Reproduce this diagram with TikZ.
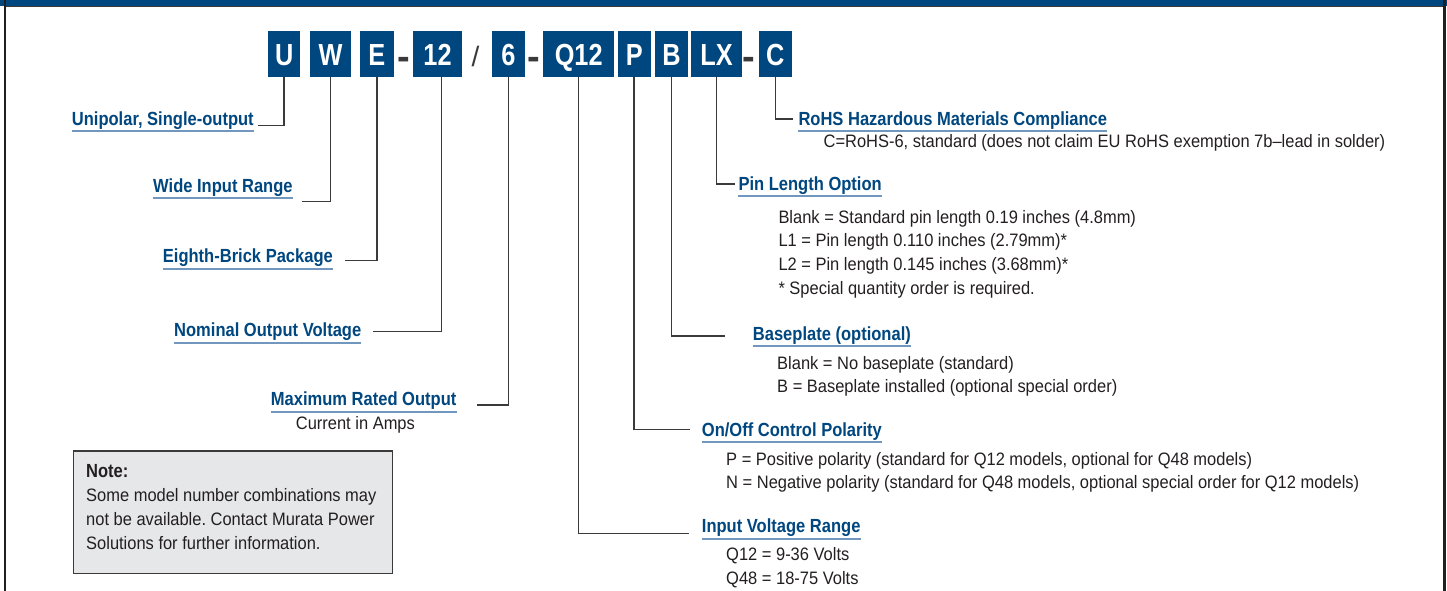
\documentclass[tikz,border=0pt]{standalone}
\usepackage{fontspec}
\setmainfont{Liberation Sans}
\newfontfamily\bodyf[FakeStretch=0.915]{Liberation Sans}
\newfontfamily\headf[FakeStretch=0.87]{Liberation Sans}
\newfontfamily\boxf[FakeStretch=0.83]{Liberation Sans}
\definecolor{mblue}{HTML}{00467F}
\definecolor{ublue}{HTML}{7297BE}
\definecolor{tgray}{HTML}{231F20}
\definecolor{cgray}{HTML}{3A3A3A}
\definecolor{notefill}{HTML}{E6E7E8}
\frenchspacing
\tikzset{
  pbox/.style={fill=mblue, text=white, font=\boxf\bfseries\fontsize{30.5}{30}\selectfont,
    inner sep=0pt, minimum height=45.5pt, text height=22pt, text depth=0pt},
  sepch/.style={text=cgray, inner sep=0pt, anchor=base},
  head/.style={text=mblue, font=\headf\bfseries\fontsize{19}{22}\selectfont, inner sep=0pt, anchor=base west},
  body/.style={text=tgray, font=\bodyf\fontsize{18}{22}\selectfont\frenchspacing, inner sep=0pt, anchor=base west},
  notehead/.style={text=tgray, font=\headf\bfseries\fontsize{19}{22}\selectfont, inner sep=0pt, anchor=base west},
  conn/.style={draw=cgray, line width=1.5pt},
  uline/.style={draw=ublue, line width=1.6pt},
  frameline/.style={draw=tgray, line width=2pt},
  notebox/.style={fill=notefill, draw=cgray, line width=1.2pt, inner sep=0pt}
}
\newcommand{\ul}[1]{\draw[uline] ([yshift=-6pt]#1.base west) -- ([yshift=-6pt]#1.base east);}
\begin{document}
\begin{tikzpicture}[x=1pt,y=-1pt]
\useasboundingbox (0,0) rectangle (1447,591);
% frame
\fill[mblue] (0,0) rectangle (1447,6.2);
\draw[cgray, line width=1pt] (5,6.7) -- (1444.5,6.7);
\draw[frameline] (5,0) -- (5,591);
\draw[frameline, line width=2.6pt] (1444.6,0) -- (1444.6,591);

% code boxes
\node[pbox, minimum width=31.7pt] (bU) at (284.2,54.2) {U};
\node[pbox, minimum width=41pt] (bW) at (330.5,54.2) {W};
\node[pbox, minimum width=33.7pt] (bE) at (376.8,54.2) {E};
\node[pbox, minimum width=48.4pt] (b12) at (437.5,54.2) {12};
\node[pbox, minimum width=33.3pt] (b6) at (508.3,54.2) {6};
\node[pbox, minimum width=70.7pt] (bQ) at (578.7,54.2) {Q12};
\node[pbox, minimum width=33pt] (bP) at (634.2,54.2) {P};
\node[pbox, minimum width=33pt] (bB) at (671.5,54.2) {B};
\node[pbox, minimum width=50.4pt] (bL) at (716.5,54.2) {LX};
\node[pbox, minimum width=32.7pt] (bC) at (775.3,54.2) {C};
% separators
\node[sepch, font=\bfseries\fontsize{38}{38}\selectfont] (s1) at (403.5,69.5) {-};
\node[sepch, font=\fontsize{28}{28}\selectfont] (s2) at (475.5,66.5) {/};
\node[sepch, font=\bfseries\fontsize{38}{38}\selectfont] (s3) at (534.3,69.5) {-};
\node[sepch, font=\bfseries\fontsize{38}{38}\selectfont] (s4) at (749.3,69.5) {-};

% left labels
\node[head] (hU) at (71.7,125) {Unipolar, Single-output}; \ul{hU}
\node[head] (hW) at (153,192) {Wide Input Range}; \ul{hW}
\node[head] (hE) at (162.7,262.7) {Eighth-Brick Package}; \ul{hE}
\node[head] (h12) at (174,336.7) {Nominal Output Voltage}; \ul{h12}
\node[head] (h6) at (270.7,405.7) {Maximum Rated Output}; \ul{h6}
\node[body] (t6) at (295.7,429.3) {Current in Amps};

\coordinate (eU) at (258,125.3);
\coordinate (eW) at (301.7,201.7);
\coordinate (eE) at (345,260.7);
\coordinate (e12) at (373.3,331.7);
\coordinate (e6) at (476.7,405);
\draw[conn] (bU.south) |- (eU);
\draw[conn] (bW.south) |- (eW);
\draw[conn] (bE.south) |- (eE);
\draw[conn] ([xshift=4.2pt]b12.south) |- (e12);
\draw[conn] (b6.south) |- (e6);

% note
\node[notebox, minimum width=319.4pt, minimum height=122.3pt] (note) at (233,512.2) {};
\node[notehead] (n0) at (86,477.3) {Note:};
\node[body] (n1) at (86,501.7) {Some model number combinations may};
\node[body] (n2) at (86,525.7) {not be available. Contact Murata Power};
\node[body] (n3) at (86,549) {Solutions for further information.};

% right labels
\node[head] (hC) at (798.3,125) {RoHS Hazardous Materials Compliance}; \ul{hC}
\node[body] (tC) at (823.4,147.5) {C=RoHS-6, standard (does not claim EU RoHS exemption 7b–lead in solder)};

\node[head] (hL) at (738.3,190) {Pin Length Option}; \ul{hL}
\node[body] (tL1) at (778.3,223.3) {Blank = Standard pin length 0.19 inches (4.8mm)};
\node[body] (tL2) at (778.3,246.7) {L1 = Pin length 0.110 inches (2.79mm)*};
\node[body] (tL3) at (778.3,270.7) {L2 = Pin length 0.145 inches (3.68mm)*};
\node[body] (tL4) at (778.3,294.3) {* Special quantity order is required.};

\node[head] (hB) at (752.7,340) {Baseplate (optional)}; \ul{hB}
\node[body] (tB1) at (777,369) {Blank = No baseplate (standard)};
\node[body] (tB2) at (777,392.5) {B = Baseplate installed (optional special order)};

\node[head] (hP) at (701.7,436) {On/Off Control Polarity}; \ul{hP}
\node[body] (tP1) at (726,465) {P = Positive polarity (standard for Q12 models, optional for Q48 models)};
\node[body] (tP2) at (726,488.3) {N = Negative polarity (standard for Q48 models, optional special order for Q12 models)};

\node[head] (hQ) at (701.7,532.7) {Input Voltage Range}; \ul{hQ}
\node[body] (tQ1) at (726,560.7) {Q12 = 9-36 Volts};
\node[body] (tQ2) at (726,584) {Q48 = 18-75 Volts};

\coordinate (eC) at (793.3,119);
\coordinate (eL) at (735,184);
\coordinate (eB) at (725,336);
\coordinate (eP) at (690,429.3);
\coordinate (eQ) at (689.3,533.3);
\draw[conn] (bC.south) |- (eC);
\draw[conn] (bL.south) |- (eL);
\draw[conn] (bB.south) |- (eB);
\draw[conn] (bP.south) |- (eP);
\draw[conn] (bQ.south) |- (eQ);
\end{tikzpicture}
\end{document}
